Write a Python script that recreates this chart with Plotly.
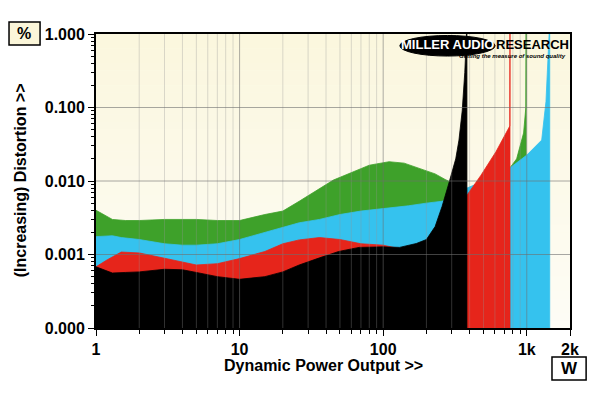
import numpy as np
import plotly.graph_objects as go

# ---------------- data (power in W, distortion in %) ----------------
GREEN_W = [1, 1.3, 1.6, 2, 3, 4, 5, 7, 10, 15, 20, 26, 45, 80, 110, 140, 177, 230, 270, 300, 383, 500, 762, 850, 950, 985, 990]
GREEN_PCT = [0.004, 0.0030, 0.0029, 0.0029, 0.0030, 0.0030, 0.0030, 0.0029, 0.0029, 0.0035, 0.0039, 0.0053,
             0.0103, 0.0164, 0.0183, 0.0175, 0.015, 0.0125, 0.0105, 0.0095, 0.0075, 0.009, 0.015, 0.02, 0.045, 0.1, 1.5]

CYAN_W = [1, 1.3, 1.5, 2, 3, 4, 5, 7, 10, 15, 20, 26, 36, 50, 70, 100, 150, 200, 257, 300, 383, 500, 762, 1000, 1270, 1360, 1420, 1445]
CYAN_PCT = [0.00175, 0.0018, 0.0017, 0.0016, 0.0014, 0.00134, 0.00134, 0.0014, 0.0016, 0.002, 0.0023, 0.0027, 0.003,
            0.0035, 0.0039, 0.0042, 0.0046, 0.0050, 0.0053, 0.006, 0.008, 0.01, 0.015, 0.0225, 0.036, 0.12, 0.6, 1.5]

RED_W = [1, 1.2, 1.5, 2, 3, 4, 5, 7, 10, 15, 20, 26, 36, 50, 70, 100, 130, 170, 200, 250, 300, 383, 480, 610, 750, 762, 764]
RED_PCT = [0.00068, 0.00085, 0.00108, 0.00105, 0.00089, 0.00078, 0.00072, 0.00075, 0.00088, 0.0011, 0.0014, 0.00158,
           0.0017, 0.0016, 0.0014, 0.00134, 0.0012, 0.0013, 0.0015, 0.0024, 0.004, 0.0064, 0.012, 0.025, 0.052, 0.056, 1.5]

BLACK_W = [1, 1.3, 1.6, 2, 3, 4, 5, 7, 10, 15, 20, 26, 36, 49, 68, 100, 130, 170, 200, 230, 257, 273, 287, 320, 337, 355, 370, 380, 383]
BLACK_PCT = [0.00068, 0.00056, 0.00057, 0.00058, 0.00063, 0.00062, 0.00057, 0.00050, 0.00046, 0.00050, 0.00058,
             0.00072, 0.0009, 0.0011, 0.00125, 0.00127, 0.00125, 0.00141, 0.0016, 0.0024, 0.0045, 0.0065, 0.0094,
             0.02, 0.036, 0.09, 0.3, 1.0, 1.5]

X_TICKS = [1, 10, 100, 1000, 2000]
X_TICKTEXT = ["1", "10", "100", "1k", "2k"]
Y_TICKS = [1, 0.1, 0.01, 0.001, 0.0001]
Y_TICKTEXT = ["1.000", "0.100", "0.010", "0.001", "0.000"]

SERIES = [
    ("green", GREEN_W, GREEN_PCT, "#3ea12a"),
    ("cyan", CYAN_W, CYAN_PCT, "#35c2ee"),
    ("red", RED_W, RED_PCT, "#e6251b"),
    ("black", BLACK_W, BLACK_PCT, "#000000"),
]

Y_FLOOR = 1e-5  # below the axis range, to close the filled areas

fig = go.Figure()

# gradient background (pale yellow at top -> near white at bottom)
n_bands = 40
top_col = np.array([251, 247, 222])
bot_col = np.array([254, 253, 246])
for i in range(n_bands):
    t = i / (n_bands - 1)
    c = top_col * (1 - t) + bot_col * t
    fig.add_shape(type="rect", xref="paper", yref="paper",
                  x0=0, x1=1, y0=1 - (i + 1) / n_bands, y1=1 - i / n_bands + 0.001,
                  fillcolor="rgb(%d,%d,%d)" % tuple(c.astype(int)), line_width=0, layer="below")

for name, w, p, col in SERIES:
    xs = list(w) + [w[-1], w[0]]
    ys = list(p) + [Y_FLOOR, Y_FLOOR]
    fig.add_trace(go.Scatter(x=xs, y=ys, mode="lines", fill="toself", fillcolor=col,
                             line=dict(color=col, width=0.8), name=name, hoverinfo="skip"))

# gridlines drawn over the fills (faint)
minor_x = [m * d for d in (1, 10, 100) for m in range(2, 10)]
major_x = [10, 100, 1000]
for xv in minor_x:
    fig.add_shape(type="line", xref="x", yref="paper", x0=xv, x1=xv, y0=0, y1=1,
                  line=dict(color="rgba(150,150,150,0.33)", width=1), layer="above")
for xv in major_x:
    fig.add_shape(type="line", xref="x", yref="paper", x0=xv, x1=xv, y0=0, y1=1,
                  line=dict(color="rgba(110,110,110,0.55)", width=1), layer="above")
for yv in [0.1, 0.01, 0.001]:
    fig.add_shape(type="line", xref="paper", yref="y", x0=0, x1=1, y0=yv, y1=yv,
                  line=dict(color="rgba(110,110,110,0.6)", width=1), layer="above")

FONT = "Liberation Sans, Arial, sans-serif"

# the page body has an 8px margin: shrink the figure so the plot area lands at 96..570 x 34..328
fig.update_layout(
    width=592, height=385,
    margin=dict(l=88, r=30, t=26, b=65),
    paper_bgcolor="white",
    plot_bgcolor="#fcfaea",
    showlegend=False,
    font=dict(family=FONT, color="black"),
    xaxis=dict(type="log", range=[0, np.log10(2000)], tickvals=X_TICKS, ticktext=X_TICKTEXT,
               tickfont=dict(size=16, family=FONT, weight="bold"), showgrid=False, zeroline=False,
               showline=True, linecolor="black", linewidth=2, mirror=True,
               ticks="outside", ticklen=6, tickcolor="black", tickwidth=1,
               minor=dict(tickvals=minor_x, ticks="outside", ticklen=4, tickcolor="black", showgrid=False)),
    yaxis=dict(type="log", range=[-4, 0], tickvals=Y_TICKS, ticktext=Y_TICKTEXT,
               tickfont=dict(size=16, family=FONT, weight="bold"), showgrid=False, zeroline=False,
               showline=True, linecolor="black", linewidth=2, mirror=True,
               ticks="outside", ticklen=6, tickcolor="black", tickwidth=1,
               minor=dict(tickvals=[m * d for d in (0.0001, 0.001, 0.01, 0.1) for m in range(2, 10)],
                          ticks="outside", ticklen=3, tickcolor="black", showgrid=False)),
)

annotations = [
    dict(text="<b>Dynamic Power Output >></b>", xref="paper", yref="paper", x=0.479, y=-0.129,
         showarrow=False, font=dict(size=16, family=FONT), xanchor="center", yanchor="middle"),
    dict(text="<b>(Increasing) Distortion >></b>", xref="paper", yref="paper", x=-0.160, y=0.503,
         showarrow=False, textangle=-90, font=dict(size=16, family=FONT), xanchor="center", yanchor="middle"),
    dict(text="<b>%</b>", xref="paper", yref="paper", x=-0.151, y=1.002, showarrow=False,
         font=dict(size=16, family=FONT), xanchor="center", yanchor="middle"),
    dict(text="<b>W</b>", xref="paper", yref="paper", x=0.998, y=-0.138, showarrow=False,
         font=dict(size=17, family=FONT), xanchor="center", yanchor="middle"),
    dict(text="<b>MILLER AUDIO</b>", xref="paper", yref="paper", x=0.741, y=0.963, showarrow=False,
         font=dict(size=13, family=FONT, color="white"), xanchor="center", yanchor="middle"),
    dict(text="<b>RESEARCH</b>", xref="paper", yref="paper", x=0.840, y=0.963, showarrow=False,
         font=dict(size=13, family=FONT, color="black"), xanchor="left", yanchor="middle"),
    dict(text="<b><i>Getting the measure of sound quality</i></b>", xref="paper", yref="paper", x=0.995, y=0.924,
         showarrow=False, font=dict(size=6, family=FONT, color="black"), xanchor="right", yanchor="middle"),
]
fig.update_layout(annotations=annotations)

# logo ellipse and boxes
fig.add_shape(type="circle", xref="paper", yref="paper", x0=0.641, x1=0.842, y0=0.925, y1=0.995,
              fillcolor="black", line=dict(color="black", width=1), layer="above")
fig.add_shape(type="rect", xref="paper", yref="paper", x0=-0.1835, x1=-0.118, y0=0.963, y1=1.041,
              fillcolor="#fbf6d9", line=dict(color="black", width=1.5))
fig.add_shape(type="rect", xref="paper", yref="paper", x0=0.962, x1=1.034, y0=-0.177, y1=-0.0986,
              fillcolor="white", line=dict(color="black", width=1.5))

fig.write_html("out.html")
